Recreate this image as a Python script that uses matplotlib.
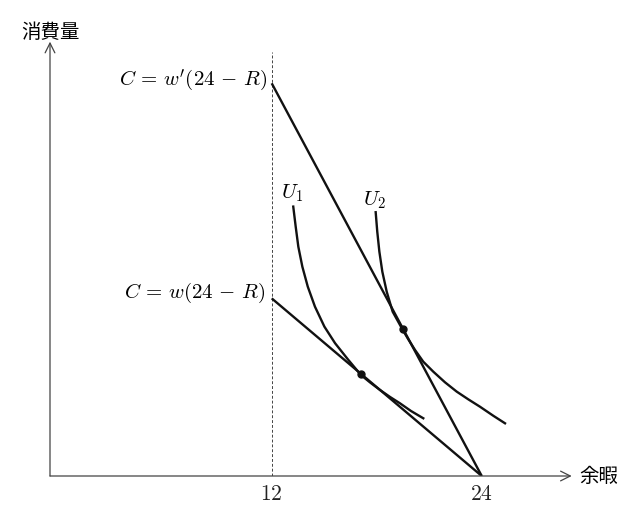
import matplotlib
matplotlib.use('Agg')
import matplotlib.pyplot as plt

plt.rcParams['mathtext.fontset'] = 'cm'
plt.rcParams['font.family'] = ['Noto Sans CJK JP', 'DejaVu Sans']

# budget lines: leisure R (hours) vs consumption C
budget_R = [12, 24]
budget_low = [120, 0]      # C = w(24 - R)
budget_high = [265.3, 0]   # C = w'(24 - R)

# indifference curves, points
u1_R = [13.23, 13.37, 13.52, 13.75, 14.06, 14.47, 15.01, 15.62, 16.38,
        17.10, 17.62, 18.19, 18.76, 19.33, 19.96, 20.66]
u1_C = [182.0, 168.4, 154.9, 141.4, 127.9, 114.4, 100.9, 89.7, 78.4,
        68.2, 63.2, 58.1, 53.4, 49.1, 43.9, 39.0]
u2_R = [17.94, 18.03, 18.15, 18.32, 18.57, 18.91, 19.49, 19.79, 20.19,
        20.66, 21.23, 21.90, 22.57, 23.23, 23.90, 24.66, 25.33]
u2_C = [178.2, 165.1, 151.6, 138.0, 124.5, 111.0, 98.6, 92.6, 85.1,
        77.2, 70.5, 63.3, 57.0, 51.8, 46.8, 40.7, 35.6]

# tangency points
opt_R = [17.1, 19.5]
opt_C = [69.0, 99.3]

tick_vals = [12, 24]
tick_labels = ['$12$', '$24$']
dash_top = 286.5

W, H = 638, 530
fig = plt.figure(figsize=(W / 100, H / 100), dpi=100)
ax = fig.add_axes([50 / W, (H - 476) / H, 521.7 / W, 434.3 / H])
ax.set_xlim(-0.669, 29.14)
ax.set_ylim(0, 293.4)
for s in ax.spines.values():
    s.set_visible(False)
ax.set_yticks([])
ax.set_xticks(tick_vals, tick_labels, fontsize=15.5)
ax.tick_params(axis='x', length=0, pad=5, colors='#222222')

# axes with open arrow heads
arr = dict(arrowstyle='->,head_length=0.5,head_width=0.25', lw=0.9,
           color='#444444', shrinkA=0, shrinkB=0, mutation_scale=14)
ax.annotate('', xy=(1, 0), xytext=(0, 0), xycoords='axes fraction', arrowprops=arr)
ax.annotate('', xy=(0, 1), xytext=(0, 0), xycoords='axes fraction', arrowprops=arr)

ax.vlines(12, 0, dash_top, colors='#444444', linestyles=(0, (3, 2)), lw=0.7)

ax.plot(budget_R, budget_high, color='#111111', lw=1.7, solid_capstyle='butt')
ax.plot(budget_R, budget_low, color='#111111', lw=1.7, solid_capstyle='butt')
ax.plot(u1_R, u1_C, color='#111111', lw=1.7, solid_joinstyle='round')
ax.plot(u2_R, u2_C, color='#111111', lw=1.7, solid_joinstyle='round')
ax.plot(opt_R, opt_C, 'o', color='#111111', ms=5)

ax.text(11.73, 267.6, r"$C\,=\,w'(24\,-\,R)$", fontsize=15, ha='right', va='center')
ax.text(11.66, 123.4, r"$C\,=\,w(24\,-\,R)$", fontsize=15, ha='right', va='center')
ax.text(13.19, 191.2, r'$U_1$', fontsize=15, ha='center', va='center')
ax.text(17.85, 186.5, r'$U_2$', fontsize=15, ha='center', va='center')

fig.text(50.5 / W, 1 - 32 / H, '消費量', fontsize=14, ha='center', va='center')
fig.text(579 / W, (H - 476.7) / H, '余暇', fontsize=14, ha='left', va='center')

fig.savefig('out.png', dpi=100)
